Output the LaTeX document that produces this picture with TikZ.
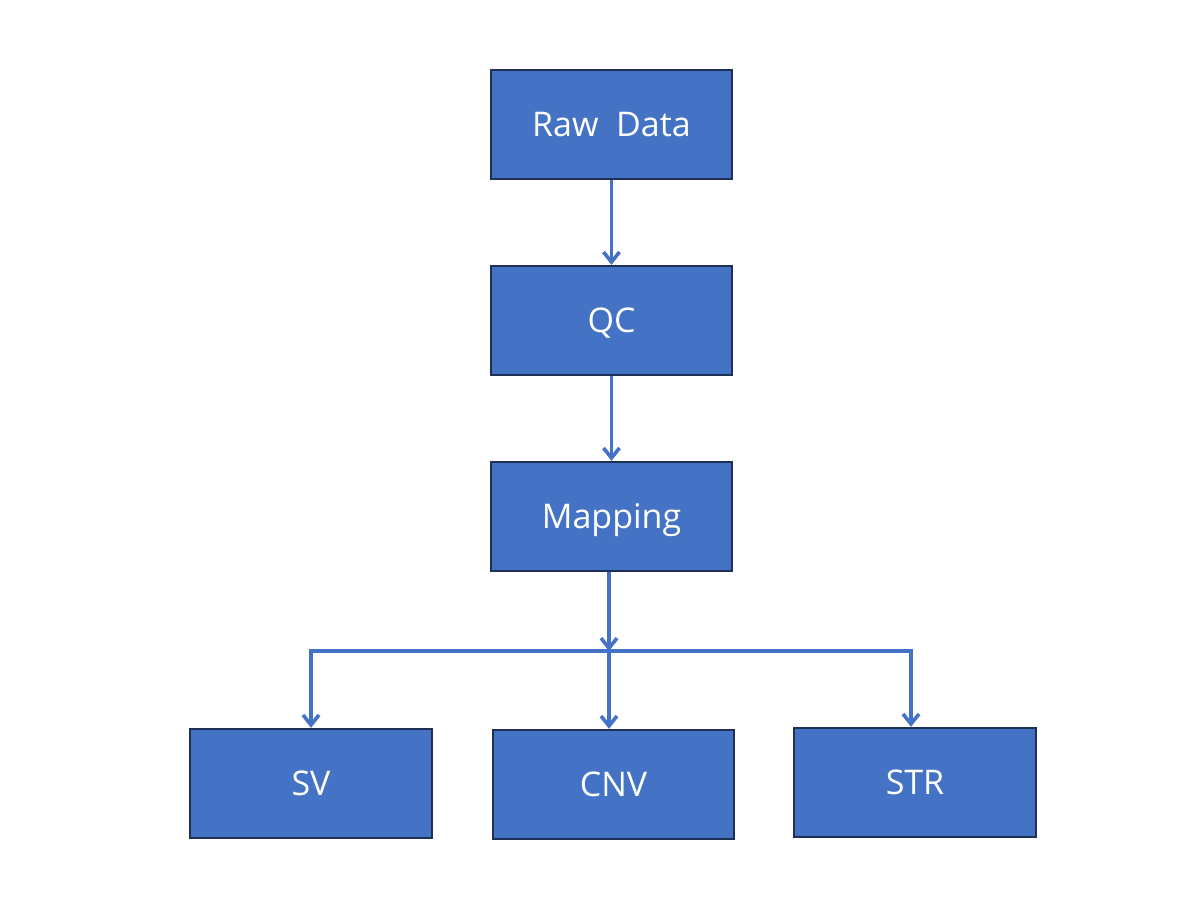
\documentclass[tikz,border=0pt]{standalone}
\usepackage{fontspec}
\setmainfont{Open Sans}
\usepackage{tikz}
\usetikzlibrary{arrows.meta,shapes,calc}

\definecolor{boxblue}{RGB}{68,114,196}
\definecolor{boxline}{RGB}{30,48,84}

\begin{document}
\begin{tikzpicture}[x=0.75pt,y=-0.75pt,
    stage/.style={draw=boxline, line width=1.5pt, fill=boxblue, text=white,
      minimum width=181pt, minimum height=82pt, inner sep=0pt,
      text height=18.2pt, text depth=0pt, font=\fontsize{25.5}{30}\selectfont},
    flow/.style={draw=boxblue, line width=2.7pt,
      -{Straight Barb[length=7.5pt,width=12pt]}}]
      \useasboundingbox (0,0) rectangle (1192,896);
      \def\stages{
        \node [stage] (raw) at (611.5,124.5) {Raw\ \ Data};
        \node [stage] (qc) at (611.5,320.5) {QC};
        \node [stage] (mapping) at (611.5,516.5) {Mapping};
        \node [stage] (sv) at (311,783.5) {SV};
        \node [stage] (cnv) at (613.5,784.5) {CNV};
        \node [stage] (str) at (915,782.5) {STR};
      }
      \def\split{
        \coordinate (split) at (609,651);
        \coordinate (strin) at ($(str.north)+(-4,0)$);
      }
      \def\showLines{
        % Draw main pipeline
        \draw [flow] (raw) -- (qc);
        \draw [flow] (qc) -- (mapping);
        \draw [flow] (mapping.south -| split) -- (split);
        % Draw branches
        \draw [flow] (split) -| (sv);
        \draw [flow] (split) -- (split |- cnv.north);
        \draw [flow] (split) -| (strin);
      }
      \stages
      \split
      \showLines
\end{tikzpicture}
\end{document}
